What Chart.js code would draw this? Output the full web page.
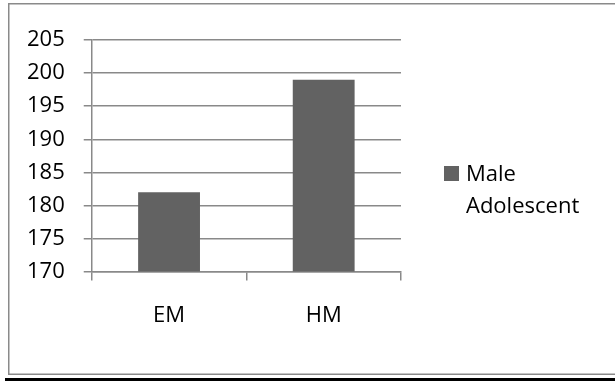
<!DOCTYPE html>
<html>
<head>
<meta charset="utf-8">
<script src="https://cdn.jsdelivr.net/npm/chart.js@4.4.1/dist/chart.umd.min.js"></script>
<style>
    html, body { margin: 0; padding: 0; background: #ffffff; }
    #bar-chart { display: block; }
</style>
</head>
<body>
<canvas id="bar-chart" width="615" height="381"></canvas>
<script>
const categories = ['EM', 'HM'];
const series_label = ['Male', 'Adolescent'];
const series_values = [182, 199];
const y_ticks = [170, 175, 180, 185, 190, 195, 200, 205];

const canvas = document.getElementById('bar-chart');
const font_name = '"Open Sans", "Liberation Sans", sans-serif';
const grid_color = '#898989';
const bar_color = '#626262';


// page frame: grey box and black rule under it
const frame_plugin = {
    id: 'frame',
    beforeDraw(chart) {
        const ctx = chart.ctx;
        ctx.save();
        ctx.fillStyle = '#ffffff';
        ctx.fillRect(0, 0, chart.width, chart.height);
        ctx.strokeStyle = '#8a8a8a';
        ctx.lineWidth = 1.5;
        ctx.strokeRect(8.75, 3.75, chart.width + 20, 370.5);
        ctx.fillStyle = '#000000';
        ctx.fillRect(5, 378, chart.width, 3);
        ctx.restore();
    }
};

// legend on the right, label on two lines
const side_legend = {
    id: 'side_legend',
    afterDraw(chart) {
        const ctx = chart.ctx;
        const area = chart.chartArea;
        const ds = chart.data.datasets[0];
        const x = area.right + 43;
        const y = 166;
        ctx.save();
        ctx.fillStyle = ds.backgroundColor;
        ctx.fillRect(x, y, 15, 15);
        ctx.fillStyle = '#000000';
        ctx.font = '22px ' + font_name;
        ctx.textBaseline = 'alphabetic';
        ctx.textAlign = 'left';
        ds.label.forEach((line, i) => {
            ctx.fillText(line, x + 22, y + 15 + i * 32);
        });
        ctx.restore();
    }
};

new Chart(canvas, {
    type: 'bar',
    data: {
        labels: categories,
        datasets: [{
            label: series_label,
            data: series_values,
            backgroundColor: bar_color,
            borderWidth: 0,
            barPercentage: 0.4,
            categoryPercentage: 1.0
        }]
    },
    options: {
        responsive: false,
        animation: false,
        layout: {
            padding: { top: 40, right: 214, bottom: 30, left: 8 }
        },
        plugins: {
            legend: { display: false },
            tooltip: { enabled: false }
        },
        scales: {
            x: {
                offset: true,
                grid: {
                    offset: true,
                    drawOnChartArea: false,
                    drawTicks: true,
                    tickLength: 9,
                    color: grid_color,
                    lineWidth: 1.5
                },
                border: { display: true, color: grid_color, width: 1.5 },
                ticks: {
                    color: '#000000',
                    padding: 22,
                    font: { family: font_name, size: 22 }
                }
            },
            y: {
                min: y_ticks[0],
                max: y_ticks[y_ticks.length - 1],
                afterBuildTicks: (scale) => {
                    scale.ticks = y_ticks.map(v => ({ value: v }));
                },
                grid: {
                    color: grid_color,
                    lineWidth: 1.5,
                    tickLength: 8
                },
                border: { display: true, color: grid_color, width: 1.5 },
                ticks: {
                    color: '#000000',
                    padding: 19,
                    font: { family: font_name, size: 22 }
                }
            }
        }
    },
    plugins: [frame_plugin, side_legend]
});
</script>
</body>
</html>
